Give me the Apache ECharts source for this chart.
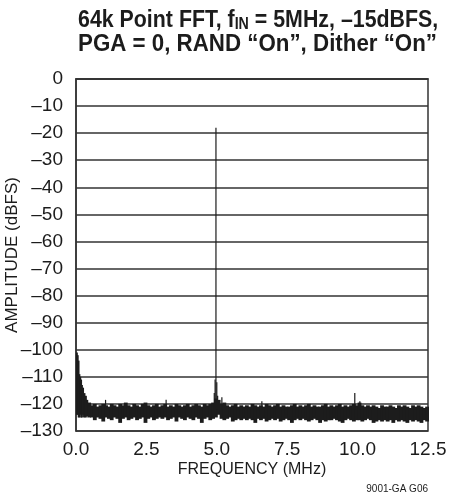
<!DOCTYPE html>
<html>
<head>
<meta charset="utf-8">
<script src="https://cdn.jsdelivr.net/npm/echarts@6/dist/echarts.min.js"></script>
<style>html,body{margin:0;padding:0;background:#fff;}#c{width:458px;height:502px;}</style>
</head>
<body>
<div id="c"></div>
<script>
// ---- data ----
var yTicks = [0, -10, -20, -30, -40, -50, -60, -70, -80, -90, -100, -110, -120, -130];
var xTicks = [0.0, 2.5, 5.0, 7.5, 10.0, 12.5];

// noise-floor bins: start frequency (MHz), upper and lower edge of the dense noise band (dBFS)
var binFreq = [0.00,0.03,0.06,0.09,0.12,0.15,0.18,0.21,0.25,0.30,0.35,0.40,
  0.5,0.6,0.7,0.8,0.9,
  1.0,1.1,1.2,1.3,1.4,1.5,1.6,1.7,1.8,1.9,
  2.0,2.1,2.2,2.3,2.4,2.5,2.6,2.7,2.8,2.9,
  3.0,3.1,3.2,3.3,3.4,3.5,3.6,3.7,3.8,3.9,
  4.0,4.1,4.2,4.3,4.4,4.5,4.6,4.7,4.8,4.9,
  5.0,5.1,5.2,5.3,5.4,5.5,5.6,5.7,5.8,5.9,
  6.0,6.1,6.2,6.3,6.4,6.5,6.6,6.7,6.8,6.9,
  7.0,7.1,7.2,7.3,7.4,7.5,7.6,7.7,7.8,7.9,
  8.0,8.1,8.2,8.3,8.4,8.5,8.6,8.7,8.8,8.9,
  9.0,9.1,9.2,9.3,9.4,9.5,9.6,9.7,9.8,9.9,
  10.0,10.1,10.2,10.3,10.4,10.5,10.6,10.7,10.8,10.9,
  11.0,11.1,11.2,11.3,11.4,11.5,11.6,11.7,11.8,11.9,
  12.0,12.1,12.2,12.3,12.4];
var binHigh = [-101,-102,-104,-109,-110,-111,-113,-114,-116,-117,-118.5,-119.5,
  -120.5,-120,-121,-120.5,-120,
  -120.5,-121,-120,-120.5,-121,-120,-120.5,-119.5,-120.5,-121,
  -120,-120.5,-121,-120,-119.5,-120.5,-121,-120.5,-120,-121,
  -120.5,-120,-121,-120.5,-121,-120,-120.5,-121,-120.5,-120,
  -121,-120.5,-120,-120.5,-121,-120,-120.5,-120,-119.5,-118,
  -118.5,-120,-119.5,-120.5,-121,-120.5,-120,-121,-120.5,-121,
  -120.5,-121,-120,-120.5,-121,-120.5,-121,-120,-120.5,-121,
  -120.5,-120,-121,-120.5,-121,-121,-120.5,-120,-121,-120.5,
  -121,-120.5,-120,-121,-120.5,-121,-121,-120.5,-120,-121,
  -120.5,-121,-120.5,-120,-121,-120.5,-121,-120.5,-120,-120.5,
  -119.5,-120.5,-121,-120.5,-121,-120.5,-121,-121.5,-120.5,-121,
  -121,-120.5,-121,-121.5,-120.5,-121,-120.5,-121,-121.5,-120.5,
  -121,-120.5,-121,-121.5,-121];
var binLow = [-124,-124,-125,-125,-124,-125,-125,-124,-125,-125,-124.5,-125,
  -125,-126,-125,-125.5,-126.5,
  -125,-125.5,-126,-125,-125.5,-127,-125.5,-125,-126,-125.5,
  -125,-126,-125.5,-125,-127,-125.5,-125,-126,-125.5,-125,
  -125.5,-125,-126,-125.5,-125,-126.5,-125,-125.5,-126,-125,
  -125.5,-126,-125,-125.5,-127,-125.5,-125,-126,-125.5,-125,
  -124,-125.5,-126,-125.5,-125,-126.5,-126,-125.5,-126,-125.5,
  -126,-125.5,-126,-127,-125.5,-126,-125.5,-126.5,-126,-125.5,
  -126,-125.5,-126.5,-126,-125.5,-126,-127,-126,-125.5,-126,
  -125.5,-126,-126.5,-126,-125.5,-126,-127,-126,-126.5,-126,
  -126,-125.5,-126,-126.5,-127,-126,-125.5,-126,-126.5,-126,
  -126,-126.5,-126,-125.5,-126,-127,-126.5,-126,-126.5,-126,
  -126.5,-126,-127,-126,-126.5,-126,-126.5,-127,-126,-126.5,
  -126,-126.5,-127,-126,-126.5];
var fMax = 12.5;

// discrete tones / spurs rising out of the floor: frequency (MHz), peak (dBFS)
var toneFreq = [4.97, 4.94, 5.00, 4.91, 5.03, 5.18, 9.90, 10.08, 1.05, 3.20, 6.60];
var toneAmp  = [-18, -111, -112, -116, -117, -117.5, -116, -119, -118.5, -118.5, -119];
var toneBase = -122;

// ---- chart ----
var bandData = binFreq.map(function (f, i) {
  var end = i + 1 < binFreq.length ? binFreq[i + 1] : fMax;
  return [f, end, binLow[i], binHigh[i]];
});
var toneData = toneFreq.map(function (f, i) { return [f, toneAmp[i], toneBase]; });

var dash = function (v) { return String(v).replace('-', '\u2013'); };
var tickFont = "'Liberation Sans', Arial, sans-serif";
var ink = '#1c1c1c';
var titleRich = {
  t: {fontFamily: tickFont, fontWeight: 'bold', fontSize: 24, lineHeight: 25, fill: ink},
  s: {fontFamily: tickFont, fontWeight: 'bold', fontSize: 16, lineHeight: 25, fill: ink, padding: [10, 0, 0, 0]}
};

var chart = echarts.init(document.getElementById('c'), null, {renderer: 'canvas'});
chart.setOption({
  animation: false,
  backgroundColor: '#fff',
  grid: {left: 76, right: 30, top: 79, bottom: 71, show: true, borderColor: '#333', borderWidth: 1.5,
    containLabel: false, outerBoundsMode: 'none'},
  xAxis: {
    type: 'value', min: 0, max: 12.5, interval: 2.5,
    name: 'FREQUENCY (MHz)', nameLocation: 'middle', nameGap: 31, nameMoveOverlap: false,
    nameTextStyle: {fontFamily: tickFont, fontSize: 16, color: ink},
    axisLine: {show: true, lineStyle: {color: '#333', width: 1.5}},
    axisTick: {show: false},
    splitLine: {show: false},
    axisLabel: {fontFamily: tickFont, fontSize: 19, color: ink, margin: 9,
      formatter: function (v) { return Number(v).toFixed(1); }}
  },
  yAxis: {
    type: 'value', min: -130, max: 0, interval: 10,
    name: 'AMPLITUDE (dBFS)', nameLocation: 'middle', nameGap: 55, nameRotate: 90, nameMoveOverlap: false,
    nameTextStyle: {fontFamily: tickFont, fontSize: 17, color: ink},
    axisLine: {show: true, lineStyle: {color: '#333', width: 1.5}},
    axisTick: {show: false},
    splitLine: {show: true, lineStyle: {color: '#333', width: 1.5}},
    axisLabel: {fontFamily: tickFont, fontSize: 19, color: ink, margin: 13, formatter: dash}
  },
  graphic: [{
    type: 'text', left: 78, top: 7, scaleX: 0.89, originX: 0,
    style: {text: '{t|64k Point FFT, f}{s|IN}{t| = 5MHz, \u201315dBFS,}', rich: titleRich}
  }, {
    type: 'text', left: 78, top: 32, scaleX: 0.93, originX: 0,
    style: {text: '{t|PGA = 0, RAND \u201cOn\u201d, Dither \u201cOn\u201d}', rich: titleRich}
  }, {
    type: 'text', right: 30, top: 484,
    style: {text: '9001-GA G06', fontFamily: tickFont, fontSize: 10, fill: ink}
  }],
  series: [{
    type: 'custom',
    data: bandData,
    encode: {x: [0, 1], y: [2, 3]},
    renderItem: function (params, api) {
      var a = api.coord([api.value(0), api.value(3)]);
      var b = api.coord([api.value(1), api.value(2)]);
      return {type: 'rect', shape: {x: a[0], y: a[1], width: b[0] - a[0] + 1, height: b[1] - a[1]},
        style: {fill: ink}};
    }
  }, {
    type: 'custom',
    data: toneData,
    encode: {x: 0, y: [1, 2]},
    renderItem: function (params, api) {
      var a = api.coord([api.value(0), api.value(2)]);
      var b = api.coord([api.value(0), api.value(1)]);
      return {type: 'line', shape: {x1: a[0], y1: a[1], x2: b[0], y2: b[1]},
        style: {stroke: ink, lineWidth: 1.2}};
    }
  }]
});
</script>
</body>
</html>
